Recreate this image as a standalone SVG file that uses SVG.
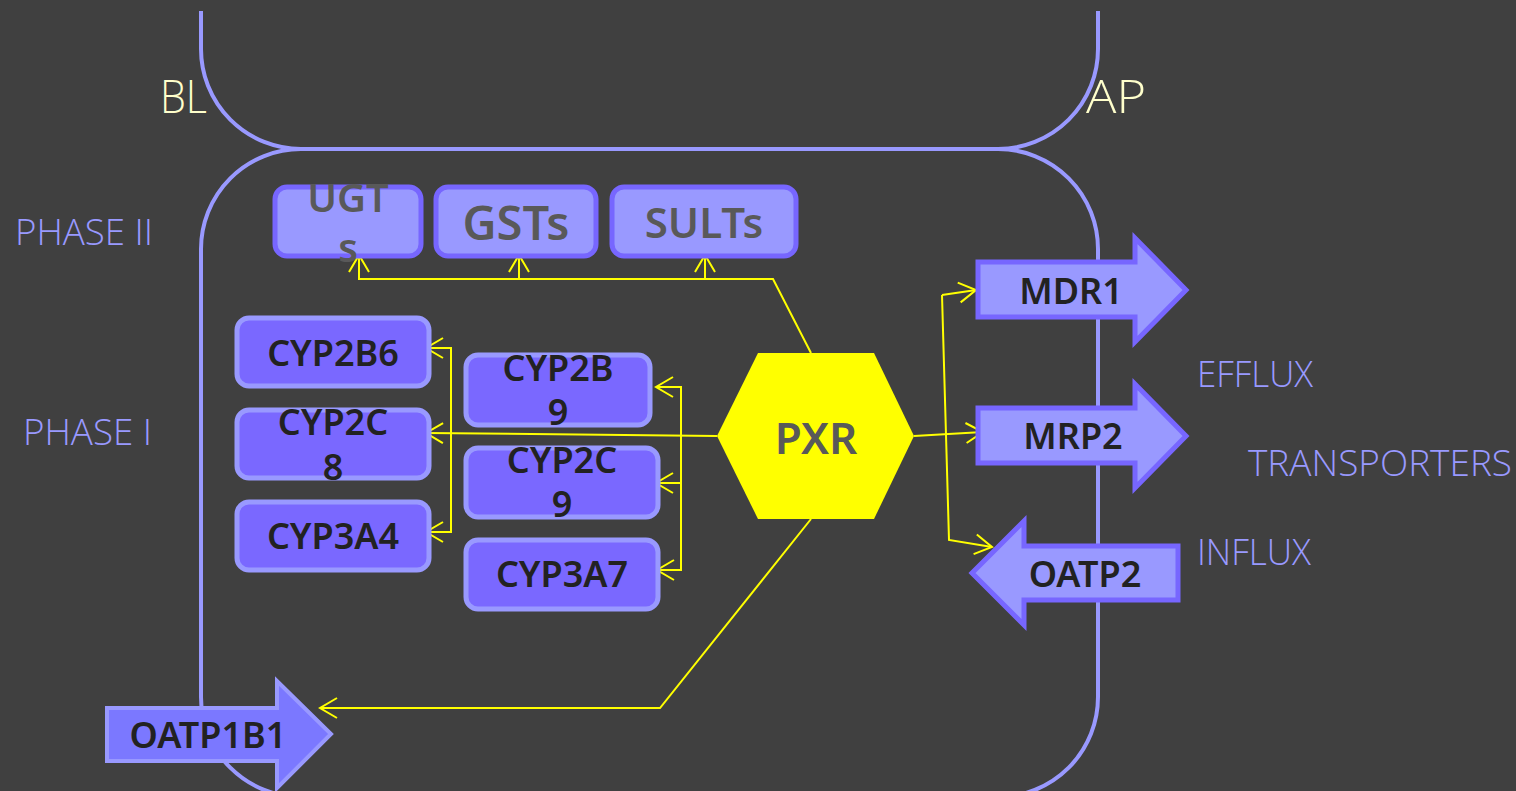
<svg xmlns="http://www.w3.org/2000/svg" width="1516" height="791" viewBox="0 0 1516 791">
<defs>
<style>
.mem{fill:none;stroke:#9999FF;stroke-width:4}
.p2{fill:#9999FF;stroke:#7766FF;stroke-width:5}
.p1{fill:#7A68FF;stroke:#9999FF;stroke-width:5}
.tr{fill:#9999FF;stroke:#7766FF;stroke-width:5}
.t2{font-family:"Noto Sans","Open Sans",sans-serif;font-weight:600;fill:#595959;text-anchor:middle}
.t1{font-family:"Noto Sans","Open Sans",sans-serif;font-weight:600;fill:#222222;text-anchor:middle;font-size:36px}
.lab{font-family:"Open Sans","Noto Sans",sans-serif;font-weight:300;fill:#9999FF}
.bl{font-family:"Open Sans","Noto Sans",sans-serif;font-weight:300;fill:#FFFFCC}
.c{fill:none;stroke:#FFFF00;stroke-width:2}
</style>
<marker id="arr" markerUnits="userSpaceOnUse" markerWidth="22" markerHeight="24" refX="18" refY="11" orient="auto" viewBox="0 0 22 24">
<path d="M1,1 L18,11 L1,21" fill="none" stroke="#FFFF00" stroke-width="2"/>
</marker>
</defs>
<rect x="0" y="0" width="1516" height="791" fill="#404040"/>

<g id="membrane">
<path class="mem" d="M201,11 V49 A100,100 0 0 0 301,149 H998 A100,100 0 0 0 1098,49 V11"/>
<rect class="mem" x="201" y="149" width="897" height="648" rx="100" ry="100"/>
</g>

<g id="labels">
<text class="bl" x="160" y="113" font-size="46" textLength="47" lengthAdjust="spacingAndGlyphs">BL</text>
<text class="bl" x="1086" y="113" font-size="46" textLength="60" lengthAdjust="spacingAndGlyphs">AP</text>
<text class="lab" x="15" y="245" font-size="37" textLength="138" lengthAdjust="spacingAndGlyphs">PHASE II</text>
<text class="lab" x="23" y="445" font-size="37" textLength="129" lengthAdjust="spacingAndGlyphs">PHASE I</text>
<text class="lab" x="1197" y="387" font-size="37" textLength="116" lengthAdjust="spacingAndGlyphs">EFFLUX</text>
<text class="lab" x="1248" y="476" font-size="37" textLength="264" lengthAdjust="spacingAndGlyphs">TRANSPORTERS</text>
<text class="lab" x="1197" y="565" font-size="37" textLength="114" lengthAdjust="spacingAndGlyphs">INFLUX</text>
</g>

<g id="connectors">
<path class="c" d="M811,353 L773,279 L359,279 L359,255" marker-end="url(#arr)"/>
<path class="c" d="M519,279 L519,255" marker-end="url(#arr)"/>
<path class="c" d="M705,279 L705,255" marker-end="url(#arr)"/>
<path class="c" d="M717,436 L426,433" marker-end="url(#arr)"/>
<path class="c" d="M451,433 L451,348 L426,348" marker-end="url(#arr)"/>
<path class="c" d="M451,433 L451,532 L426,532" marker-end="url(#arr)"/>
<path class="c" d="M681,435 L681,387 L656,387" marker-end="url(#arr)"/>
<path class="c" d="M681,435 L681,483 L656,483" marker-end="url(#arr)"/>
<path class="c" d="M681,483 L681,570 L657,570" marker-end="url(#arr)"/>
<path class="c" d="M914,436 L983,432" marker-end="url(#arr)"/>
<path class="c" d="M942,295 L976,290" marker-end="url(#arr)"/>
<path class="c" d="M942,295 L949,540 L992,547" marker-end="url(#arr)"/>
<path class="c" d="M811,519 L660,708 L320,708" marker-end="url(#arr)"/>
</g>

<g id="UGTs">
<rect class="p2" x="275" y="187" width="146" height="69" rx="12"/>
<text class="t2" font-size="40"><tspan x="348" y="212">UGT</tspan><tspan x="348" y="262">s</tspan></text>
</g>
<g id="GSTs">
<rect class="p2" x="436" y="187" width="160" height="69" rx="12"/>
<text class="t2" x="516" y="240" font-size="47">GSTs</text>
</g>
<g id="SULTs">
<rect class="p2" x="612" y="187" width="184" height="69" rx="12"/>
<text class="t2" x="704" y="238" font-size="42">SULTs</text>
</g>

<g id="CYP2B6">
<rect class="p1" x="237" y="318" width="192" height="68" rx="12"/>
<text class="t1" x="333" y="366">CYP2B6</text>
</g>
<g id="CYP2C8">
<rect class="p1" x="237" y="410" width="192" height="68" rx="12"/>
<text class="t1"><tspan x="333" y="435">CYP2C</tspan><tspan x="333" y="480">8</tspan></text>
</g>
<g id="CYP3A4">
<rect class="p1" x="237" y="502" width="192" height="68" rx="12"/>
<text class="t1" x="333" y="549">CYP3A4</text>
</g>
<g id="CYP2B9">
<rect class="p1" x="466" y="355" width="184" height="70" rx="12"/>
<text class="t1"><tspan x="558" y="381">CYP2B</tspan><tspan x="558" y="425">9</tspan></text>
</g>
<g id="CYP2C9">
<rect class="p1" x="466" y="448" width="192" height="69" rx="12"/>
<text class="t1"><tspan x="562" y="473">CYP2C</tspan><tspan x="562" y="517">9</tspan></text>
</g>
<g id="CYP3A7">
<rect class="p1" x="466" y="540" width="192" height="69" rx="12"/>
<text class="t1" x="562" y="587">CYP3A7</text>
</g>

<g id="PXR">
<polygon points="717,436 758,353 874,353 914,436 874,519 758,519" fill="#FFFF00"/>
<text class="t2" x="816" y="454" font-size="44">PXR</text>
</g>

<g id="MDR1">
<polygon class="tr" points="978,262 1135,262 1135,238 1186,290 1135,342 1135,317 978,317"/>
<text class="t1" x="1071" y="304">MDR1</text>
</g>
<g id="MRP2">
<polygon class="tr" points="978,408 1135,408 1135,384 1186,436 1135,488 1135,463 978,463"/>
<text class="t1" x="1073" y="449">MRP2</text>
</g>
<g id="OATP2">
<polygon class="tr" points="972,573 1024,521 1024,546 1178,546 1178,600 1024,600 1024,625"/>
<text class="t1" x="1085" y="587">OATP2</text>
</g>
<g id="OATP1B1">
<polygon points="107,708 277,708 277,681 331,734 277,788 277,761 107,761" fill="#7B78FF" stroke="#9999FF" stroke-width="4"/>
<text class="t1" x="208" y="748" font-size="33">OATP1B1</text>
</g>
</svg>
